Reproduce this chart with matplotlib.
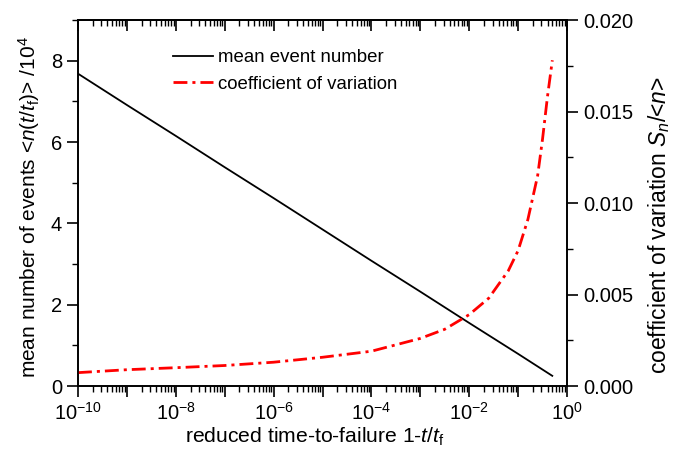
import numpy as np
import matplotlib
matplotlib.use("Agg")
import matplotlib.pyplot as plt
from matplotlib.ticker import LogLocator, NullFormatter, FixedLocator, MultipleLocator, FuncFormatter

plt.rcParams['font.family'] = ['Liberation Sans', 'DejaVu Sans']
plt.rcParams['mathtext.fontset'] = 'custom'
plt.rcParams['mathtext.rm'] = 'Liberation Sans'
plt.rcParams['mathtext.it'] = 'Liberation Sans:italic'
plt.rcParams['mathtext.bf'] = 'Liberation Sans:bold'

# Data
mean_x = [1e-10, 1e-9, 1e-8, 1e-7, 1e-6, 1e-5, 1e-4, 1e-3, 1e-2, 1e-1, 0.5]
mean_n = [7.68, 6.91, 6.15, 5.38, 4.62, 3.85, 3.08, 2.32, 1.55, 0.79, 0.25]

cv_x = [1e-10, 1e-9, 1e-8, 1e-7, 1e-6, 1e-5, 1e-4, 10**-3.5, 1e-3, 10**-2.5, 1e-2,
        10**-1.6, 10**-1.2, 1e-1, 10**-0.8, 10**-0.6, 10**-0.5, 10**-0.4, 10**-0.3]
cv_val = [0.00073, 0.00089, 0.00100, 0.00112, 0.00130, 0.00157, 0.00190, 0.00225,
          0.00260, 0.00310, 0.00390, 0.00480, 0.00630, 0.00740, 0.00910, 0.01150,
          0.01350, 0.01580, 0.01780]

legend_labels = ['mean event number', 'coefficient of variation']

W, H = 685, 449
fig = plt.figure(figsize=(W/100, H/100), dpi=100)
ax = fig.add_axes([78/W, 1-386/H, (567-78)/W, (386-20)/H])
ax2 = ax.twinx()

l1, = ax.plot(mean_x, mean_n, color='black', lw=1.3)
l2, = ax2.plot(cv_x, cv_val, color='red', lw=2.0, ls=(0, (5, 1.8, 1.1, 1.8)))

ax.set_xscale('log')
ax.set_xlim(1e-10, 1)
ax.set_ylim(0, 9)
ax2.set_ylim(0, 0.020)

fs = 14.5
ax.xaxis.set_major_locator(FixedLocator([10.0**k for k in range(-10, 1)]))
def xfmt(v, pos):
    k = int(round(np.log10(v)))
    return r'10$^{%d}$' % k if k % 2 == 0 else ''
ax.xaxis.set_major_formatter(FuncFormatter(xfmt))
ax.xaxis.set_minor_locator(LogLocator(base=10, subs=np.arange(2, 10), numticks=100))
ax.xaxis.set_minor_formatter(NullFormatter())

ax.yaxis.set_major_locator(MultipleLocator(2))
ax.yaxis.set_minor_locator(MultipleLocator(1))
ax2.yaxis.set_major_locator(MultipleLocator(0.005))
ax2.yaxis.set_minor_locator(MultipleLocator(0.0025))
ax2.yaxis.set_major_formatter(FuncFormatter(lambda v, p: '%.3f' % v))

ax.tick_params(axis='both', which='major', direction='out', length=8, width=1.2, labelsize=fs, pad=3.5)
ax.tick_params(axis='both', which='minor', direction='out', length=4.5, width=1.0)
ax.tick_params(axis='y', right=False)
ax2.tick_params(axis='y', which='major', direction='out', length=8, width=1.2, labelsize=fs, pad=3.5)
ax2.tick_params(axis='y', which='minor', direction='out', length=4.5, width=1.0)

top = ax.secondary_xaxis('top')
top.xaxis.set_major_locator(FixedLocator([10.0**k for k in range(-10, 1)]))
top.xaxis.set_minor_locator(LogLocator(base=10, subs=np.arange(2, 10), numticks=100))
top.xaxis.set_major_formatter(NullFormatter())
top.xaxis.set_minor_formatter(NullFormatter())
top.tick_params(axis='x', which='major', direction='in', length=8, width=1.2)
top.tick_params(axis='x', which='minor', direction='in', length=4.5, width=1.0)

for a in (ax, ax2):
    for s in a.spines.values():
        s.set_linewidth(1.2)
top.spines['top'].set_linewidth(1.2)

# Axis titles placed in figure pixel coordinates
def px(x, y):
    return x / W, 1 - y / H

fig.text(*px(315, 443), r'reduced time-to-failure 1-$t$/$t_{\mathrm{f}}$',
         fontsize=15.2, ha='center', va='baseline')
fig.text(*px(29, 207), r'mean number of events <$n$($t$/$t_{\mathrm{f}}$)> /10$^4$',
         fontsize=15, rotation=90, ha='center', va='center')
fig.text(*px(659, 225), r'coefficient of variation $S_n$/<$n$>',
         fontsize=16.5, rotation=90, ha='center', va='center')

leg = ax.legend([l1, l2], legend_labels, loc='upper left', bbox_to_anchor=(0.159, 0.966),
                frameon=False, fontsize=13.4, handlelength=2.2, handletextpad=0.25,
                labelspacing=0.5)

fig.savefig('out.png', dpi=100)
